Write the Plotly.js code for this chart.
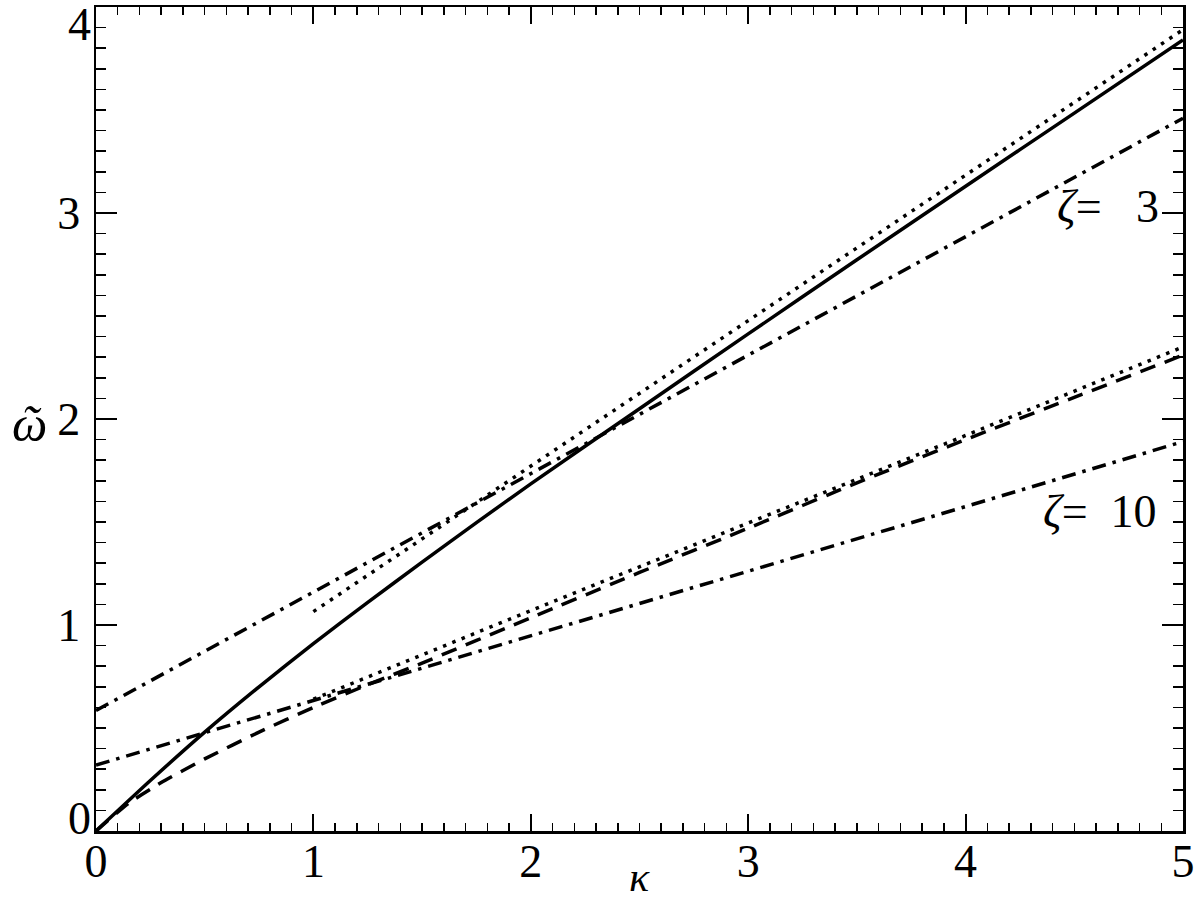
<!DOCTYPE html>
<html>
<head>
<meta charset="utf-8">
<script src="https://cdn.plot.ly/plotly-3.0.1.min.js"></script>
<style>html,body{margin:0;padding:0;background:#fff;}#chart{width:1200px;height:902px;}</style>
</head>
<body>
<div id="chart"></div>
<script>
// Solid curve
const kSolid = [0, 0.25, 0.5, 0.75, 1, 1.25, 1.5, 1.75, 2, 2.5, 3, 3.5, 4, 4.5, 5];
const wSolid = [0, 0.245, 0.48, 0.70, 0.91, 1.11, 1.305, 1.497, 1.685, 2.05, 2.413, 2.773, 3.13, 3.485, 3.84];
// Upper dotted line (zeta = 3)
const kDot3 = [1, 2, 3, 4, 5];
const wDot3 = [1.065, 1.77, 2.475, 3.18, 3.89];
// Upper dash-dot line (zeta = 3)
const kDD3 = [0, 1, 2, 3, 4, 5];
const wDD3 = [0.585, 1.16, 1.735, 2.31, 2.885, 3.46];
// Lower dash-dot line (zeta = 10)
const kDD10 = [0, 1, 2, 3, 4, 5];
const wDD10 = [0.32, 0.633, 0.946, 1.26, 1.575, 1.89];
// Lower dotted line (zeta = 10)
const kDot10 = [1, 2, 3, 4, 5];
const wDot10 = [0.64, 1.07, 1.495, 1.92, 2.35];
// Dashed curve
const kDash = [0, 0.15, 0.3, 0.5, 0.75, 1, 1.25, 1.5, 2, 2.5, 3, 3.5, 4, 4.5, 5];
const wDash = [0, 0.135, 0.235, 0.35, 0.48, 0.60, 0.71, 0.815, 1.035, 1.255, 1.47, 1.69, 1.9, 2.105, 2.31];

// Axis ticks
const xTicks = [0, 1, 2, 3, 4, 5];
const yTicks = [0, 1, 2, 3, 4];
const yTickText = ['', '1', '2', '3', ''];
const yTopTick = [4];
const yBottomTick = [0];
const zetaLabels = ['<i>ζ</i>=\u00A0\u00A0 3', '<i>ζ</i>=\u00A0 10'];

const W = 3.5;
function tr(x, y, dash, shape, yax) {
  return {x: x, y: y, type: 'scatter', mode: 'lines', hoverinfo: 'skip', yaxis: yax || 'y',
    line: {color: '#000', width: W, dash: dash, shape: shape || 'linear', smoothing: 0.5}};
}
const data = [
  tr(kSolid, wSolid, 'solid', 'spline'),
  tr(kDot3, wDot3, '3.5px,6.5px', 'linear', 'y2'),
  tr(kDD3, wDD3, '14px,7px,3.5px,7px'),
  tr(kDD10, wDD10, '14px,7px,3.5px,7px'),
  tr(kDot10, wDot10, '3.5px,6.5px', 'linear', 'y3'),
  tr(kDash, wDash, '16px,10px', 'spline')
];

const font = 'Liberation Serif, DejaVu Serif, serif';
const tickFont = {family: font, size: 46, color: '#000'};
const axisCommon = {
  showgrid: false, zeroline: false, showline: true, linecolor: '#000', linewidth: 2.5,
  mirror: 'ticks', ticks: 'inside', tickcolor: '#000', tickwidth: 2,
  tickfont: tickFont, fixedrange: true
};
const extraY = {
  overlaying: 'y', side: 'left', anchor: 'x', range: [0, 4], showgrid: false, zeroline: false,
  showline: false, ticks: '', tickmode: 'array', tickfont: tickFont, ticklabelstandoff: 4,
  ticklabeloverflow: 'allow', fixedrange: true
};
const layout = {
  width: 1200, height: 902,
  margin: {l: 96, r: 17, t: 7, b: 71},
  paper_bgcolor: '#fff', plot_bgcolor: '#fff',
  showlegend: false,
  xaxis: Object.assign({}, axisCommon, {
    range: [0, 5], tickmode: 'array', tickvals: xTicks, ticklen: 17, ticklabelstandoff: -12,
    minor: {dtick: 0.1, ticks: 'inside', ticklen: 8, tickwidth: 1.5, tickcolor: '#000'}
  }),
  yaxis: Object.assign({}, axisCommon, {
    range: [0, 4], tickmode: 'array', tickvals: yTicks, ticktext: yTickText, ticklen: 21, ticklabelstandoff: 4,
    minor: {dtick: 0.1, ticks: 'inside', ticklen: 10, tickwidth: 1.5, tickcolor: '#000'}
  }),
  yaxis2: Object.assign({}, extraY, {tickvals: yTopTick, ticktext: yTopTick.map(String), ticklabelshift: 17}),
  yaxis3: Object.assign({}, extraY, {tickvals: yBottomTick, ticktext: yBottomTick.map(String), ticklabelshift: -13}),
  annotations: [
    {text: zetaLabels[0], x: 4.9, y: 3.03, xref: 'x', yref: 'y', xanchor: 'right', yanchor: 'middle',
     showarrow: false, font: {family: font, size: 46, color: '#000'}},
    {text: zetaLabels[1], x: 4.89, y: 1.55, xref: 'x', yref: 'y', xanchor: 'right', yanchor: 'middle',
     showarrow: false, font: {family: font, size: 46, color: '#000'}},
    {text: '<i>κ</i>', x: 0.5, y: -71 / 824, xref: 'paper', yref: 'paper', xanchor: 'center', yanchor: 'bottom',
     showarrow: false, font: {family: font, size: 42, color: '#000'}},
    {text: '<i>ῶ</i>', x: (29 - 96) / 1087, y: (831 - 424) / 824, xref: 'paper', yref: 'paper', xanchor: 'center', yanchor: 'middle',
     showarrow: false, font: {family: font, size: 50, color: '#000'}}
  ]
};
Plotly.newPlot('chart', data, layout, {staticPlot: true, displayModeBar: false});
</script>
</body>
</html>
